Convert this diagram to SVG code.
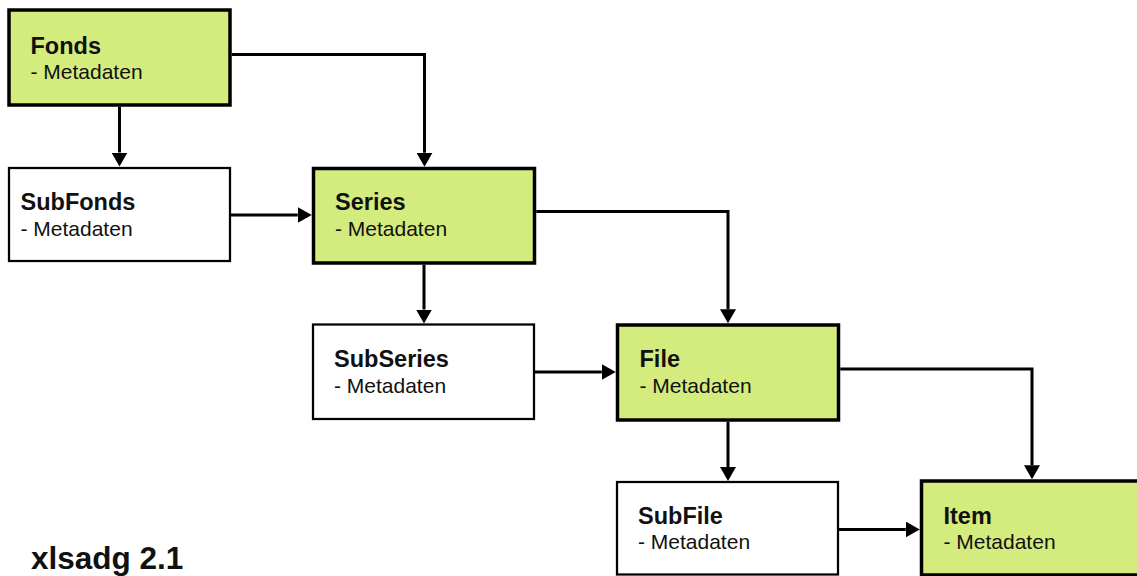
<svg xmlns="http://www.w3.org/2000/svg" width="1137" height="576" viewBox="0 0 1137 576">
  <style>
    .main { fill: #d4eb7e; stroke: #000; stroke-width: 3.5; }
    .sub { fill: #fff; stroke: #000; stroke-width: 2.25; }
    .title { font-family: "Liberation Sans", Arial, sans-serif; font-weight: bold; font-size: 23.5px; fill: #111; }
    .meta { font-family: "Liberation Sans", Arial, sans-serif; font-size: 21px; fill: #111; }
    .edge { fill: none; stroke: #000; stroke-width: 3; marker-end: url(#head); }
    .caption { font-family: "Liberation Sans", Arial, sans-serif; font-weight: bold; font-size: 31.5px; fill: #111; }
  </style>
  <defs>
    <marker id="head" markerUnits="userSpaceOnUse" viewBox="0 0 14 16" refX="0" refY="8" markerWidth="14" markerHeight="16" orient="auto">
      <path d="M0,0 L14,8 L0,16 z" fill="#000"/>
    </marker>
  </defs>

  <rect width="1137" height="576" fill="#fff"/>

  <!-- connectors -->
  <g id="connectors">
    <path class="edge" d="M119.5,106.75 V152.5"/>
    <path class="edge" d="M231.75,54.5 H424.5 V152.75"/>
    <path class="edge" d="M231,215 H297.75"/>
    <path class="edge" d="M424,264.75 V309.5"/>
    <path class="edge" d="M536.25,211.5 H728 V309.25"/>
    <path class="edge" d="M535,372 H601.75"/>
    <path class="edge" d="M728,421.75 V467"/>
    <path class="edge" d="M840.25,369 H1032 V465.25"/>
    <path class="edge" d="M839,529.5 H905.75"/>
  </g>

  <!-- hierarchy levels -->
  <g id="fonds">
    <rect class="main" x="9" y="10" width="221" height="95"/>
    <text class="title" x="30.5" y="53.5">Fonds</text>
    <text class="meta" x="30.5" y="79">- Metadaten</text>
  </g>
  <g id="subfonds">
    <rect class="sub" x="9" y="168" width="221" height="93"/>
    <text class="title" x="20.5" y="210">SubFonds</text>
    <text class="meta" x="20.5" y="236">- Metadaten</text>
  </g>
  <g id="series">
    <rect class="main" x="313.5" y="168.5" width="221" height="94.5"/>
    <text class="title" x="335" y="210">Series</text>
    <text class="meta" x="335" y="236">- Metadaten</text>
  </g>
  <g id="subseries">
    <rect class="sub" x="313" y="324.5" width="221" height="94.5"/>
    <text class="title" x="334" y="366.5">SubSeries</text>
    <text class="meta" x="334" y="392.5">- Metadaten</text>
  </g>
  <g id="file">
    <rect class="main" x="617.5" y="325" width="221" height="95"/>
    <text class="title" x="639.5" y="367">File</text>
    <text class="meta" x="639.5" y="393">- Metadaten</text>
  </g>
  <g id="subfile">
    <rect class="sub" x="617" y="482" width="221" height="92.5"/>
    <text class="title" x="638" y="523.5">SubFile</text>
    <text class="meta" x="638" y="549">- Metadaten</text>
  </g>
  <g id="item">
    <rect class="main" x="921.5" y="481" width="240" height="94"/>
    <text class="title" x="943.5" y="524">Item</text>
    <text class="meta" x="943.5" y="548.5">- Metadaten</text>
  </g>

  <text class="caption" x="31" y="569">xlsadg 2.1</text>
</svg>
